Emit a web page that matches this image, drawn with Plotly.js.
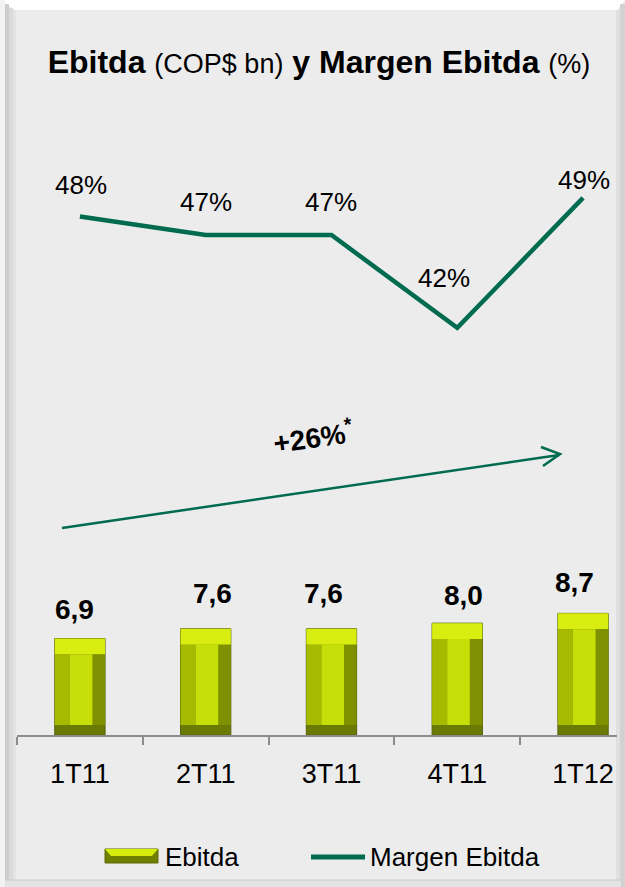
<!DOCTYPE html>
<html><head><meta charset="utf-8">
<script src="https://cdn.plot.ly/plotly-3.0.1.min.js"></script>
<style>html,body{margin:0;padding:0;background:#ececec;}#chart{width:625px;height:887px;}</style>
</head><body><div id="chart"></div>
<script>
// ---- data ----
const categories = ['1T11', '2T11', '3T11', '4T11', '1T12'];
const ebitda = [6.9, 7.6, 7.6, 8.0, 8.7];          // COP$ bn
const margenEbitda = [48, 47, 47, 42, 49];         // %
const growthText = '+26%';
const legendNames = ['Ebitda', 'Margen Ebitda'];

// ---- styling / geometry ----
const W = 625, H = 887, ML = 17, MR = 8, MT = 100, MB = 152;
const PW = W - ML - MR, PH = H - MT - MB;
const fx = p => (p - ML) / PW;
const fy = p => (H - MB - p) / PH;
const FONT = 'Liberation Sans, Arial, sans-serif';
const GREEN = '#006b4f';
const fmt = v => v.toFixed(1).replace('.', ',');

// bevel sizes in value units (styling)
const TOPB = 1.14, BOTB = 0.72;

// bevelled bar layers
const outer = {type:'bar', x:categories, y:ebitda, width:0.4, yaxis:'y',
  marker:{color:'#6b7a00', line:{color:'#56630a', width:1}}, showlegend:false, hoverinfo:'skip'};
const topBand = {type:'bar', x:categories, y:ebitda.map(v=>TOPB), base:ebitda.map(v=>v-TOPB), width:0.4,
  marker:{color:'#d8ee10'}, showlegend:false, hoverinfo:'skip'};
const leftSide = {type:'bar', x:categories, y:ebitda.map(v=>v-TOPB-BOTB), base:ebitda.map(v=>BOTB), width:0.12, offset:-0.2,
  marker:{color:'#a6ba00'}, showlegend:false, hoverinfo:'skip'};
const rightSide = {type:'bar', x:categories, y:ebitda.map(v=>v-TOPB-BOTB), base:ebitda.map(v=>BOTB), width:0.1, offset:0.1,
  marker:{color:'#7f9100'}, showlegend:false, hoverinfo:'skip'};
const face = {type:'bar', name:legendNames[0], x:categories, y:ebitda.map(v=>v-TOPB-BOTB), base:ebitda.map(v=>BOTB), width:0.18, offset:-0.08,
  marker:{color:'#c6df08'}, showlegend:false, hoverinfo:'skip'};

const line = {type:'scatter', mode:'lines', name:legendNames[1], x:categories, y:margenEbitda, yaxis:'y2',
  line:{color:GREEN, width:4.5}, hoverinfo:'skip', showlegend:false};

// label offsets (px)
const barLabelDX = [-5, 7, -8, 6, -9];
const barLabelDY = [29, 35, 35, 28, 31];
const pctLabelDX = [1, 0, 0, -13, 1];
const pctLabelDY = [31, 33, 33, 50, 18];

const annotations = [];
categories.forEach((c, i) => {
  annotations.push({x:c, y:ebitda[i], xref:'x', yref:'y', text:'<b>'+fmt(ebitda[i])+'</b>', showarrow:false,
    xshift:barLabelDX[i], yshift:barLabelDY[i], yanchor:'middle', font:{family:FONT, size:28, color:'#000'}});
  annotations.push({x:c, y:margenEbitda[i], xref:'x', yref:'y2', text:margenEbitda[i]+'%', showarrow:false,
    xshift:pctLabelDX[i], yshift:pctLabelDY[i], yanchor:'middle', font:{family:FONT, size:26, color:'#000'}});
});
annotations.push({xref:'paper', yref:'paper', x:fx(313), y:fy(436), text:'<b>'+growthText+'<sup>*</sup></b>',
  showarrow:false, textangle:-8, xanchor:'center', yanchor:'middle', font:{family:FONT, size:28, color:'#000'}});
// manual legend texts
annotations.push({xref:'paper', yref:'paper', x:fx(163), y:fy(857), text:legendNames[0], showarrow:false,
  xanchor:'left', yanchor:'middle', font:{family:FONT, size:26, color:'#000'}});
annotations.push({xref:'paper', yref:'paper', x:fx(368), y:fy(857), text:legendNames[1], showarrow:false,
  xanchor:'left', yanchor:'middle', font:{family:FONT, size:26, color:'#000'}});

const R = (x0,x1,y0,y1,c) => ({type:'rect', xref:'paper', yref:'paper', layer:'below', line:{width:0}, fillcolor:c,
  x0:fx(x0), x1:fx(x1), y0:fy(y1), y1:fy(y0)});
const shapes = [
  // bevelled frame
  {type:'path', xref:'paper', yref:'paper', layer:'below', line:{width:0}, fillcolor:'#ffffff',
    path:`M${fx(0)},${fy(0)} L${fx(625)},${fy(0)} L${fx(617)},${fy(10)} L${fx(15)},${fy(10)} Z`},
  R(0,5,0,887,'#f2f2f2'), R(5,9,4,880,'#cdcdcd'), R(9,13,8,880,'#dadada'), R(13,16,10,880,'#e4e4e4'),
  R(616,620,10,880,'#e0e0e0'), R(620,625,4,887,'#d2d2d2'), R(5,621,880,887,'#e3e3e3'),
  {type:'line', xref:'paper', yref:'paper', layer:'below', line:{color:'#cccccc', width:1},
    x0:fx(5), x1:fx(621), y0:fy(880), y1:fy(880)},
  // growth arrow
  {type:'line', xref:'paper', yref:'paper', line:{color:GREEN, width:2.5},
    x0:fx(62), y0:fy(528), x1:fx(559), y1:fy(455)},
  {type:'path', xref:'paper', yref:'paper', line:{color:GREEN, width:2.5},
    path:`M${fx(541)},${fy(447)} L${fx(560)},${fy(454)} L${fx(543)},${fy(466)}`},
  // manual legend swatches
  {type:'rect', xref:'paper', yref:'paper', line:{color:'#5d6b00', width:1}, fillcolor:'#6f8000',
    x0:fx(105), x1:fx(158), y0:fy(863), y1:fy(849)},
  {type:'path', xref:'paper', yref:'paper', line:{width:0}, fillcolor:'#d6ec0c',
    path:`M${fx(105)},${fy(849)} L${fx(158)},${fy(849)} L${fx(152)},${fy(856)} L${fx(111)},${fy(856)} Z`},
  {type:'line', xref:'paper', yref:'paper', line:{color:GREEN, width:5},
    x0:fx(311), x1:fx(365), y0:fy(857), y1:fy(857)}
];

const layout = {
  width:W, height:H, margin:{l:ML, r:MR, t:MT, b:MB},
  paper_bgcolor:'#ececec', plot_bgcolor:'rgba(0,0,0,0)',
  font:{family:FONT, color:'#000'},
  separators:',.',
  title:{text:'<b>Ebitda</b> <span style="font-size:27px">(COP$ bn)</span> <b>y Margen Ebitda</b> <span style="font-size:27px">(%)</span>',
    font:{family:FONT, size:32, color:'#000'}, x:319/625, xanchor:'center', xref:'container',
    y:1-62/887, yanchor:'middle', yref:'container'},
  barmode:'overlay',
  xaxis:{type:'category', range:[-0.5, 4.27], tickson:'boundaries', ticks:'outside', ticklen:8,
    tickcolor:'#8c8c8c', tickwidth:2, showline:true, linecolor:'#8c8c8c', linewidth:2,
    showgrid:false, zeroline:false, ticklabelstandoff:14, tickfont:{family:FONT, size:27, color:'#000'}, fixedrange:true},
  yaxis:{range:[0, PH/13.98], visible:false, showgrid:false, zeroline:false, fixedrange:true},
  yaxis2:{range:[20.08, 54.27], overlaying:'y', visible:false, showgrid:false, zeroline:false, fixedrange:true},
  showlegend:false,
  annotations:annotations, shapes:shapes
};

Plotly.newPlot('chart', [outer, topBand, leftSide, rightSide, face, line], layout, {displayModeBar:false, staticPlot:true});
</script></body></html>
